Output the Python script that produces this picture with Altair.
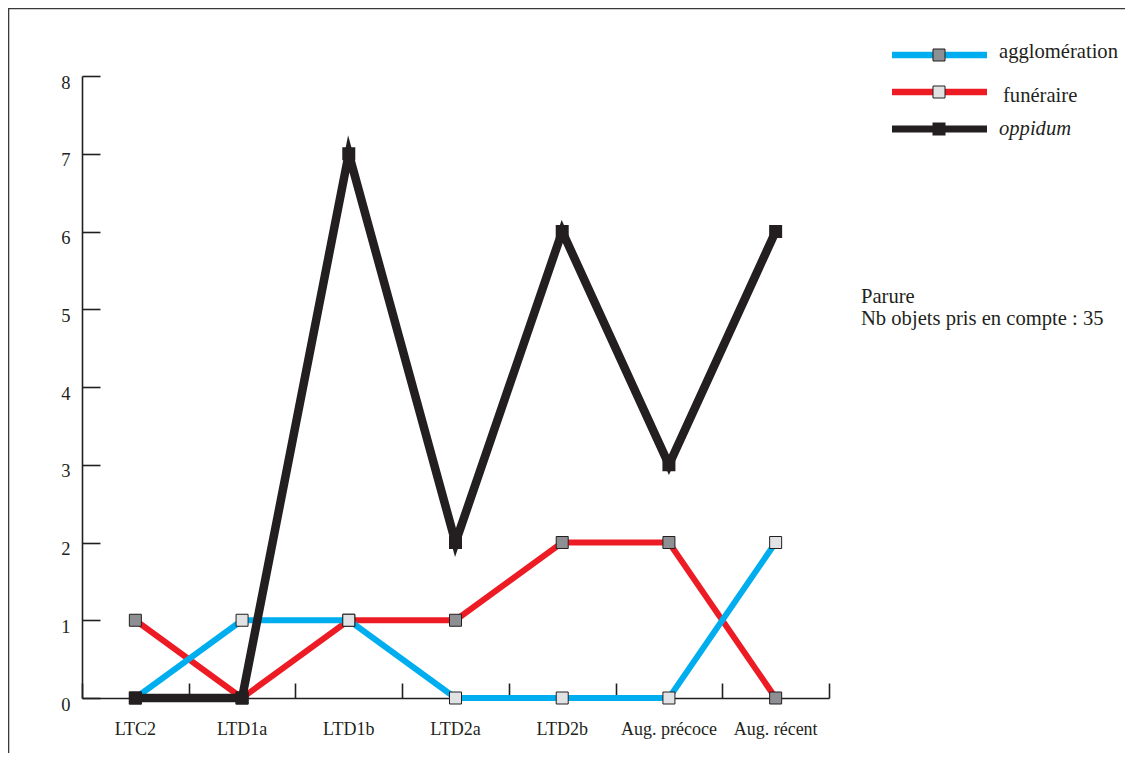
import altair as alt
import pandas as pd

# ---- data ----
cats = ["LTC2", "LTD1a", "LTD1b", "LTD2a", "LTD2b", "Aug. précoce", "Aug. récent"]
agglo = [0, 1, 1, 0, 0, 0, 2]
funer = [1, 0, 1, 1, 2, 2, 0]
oppid = [0, 0, 7, 2, 6, 3, 6]
series_names = ["agglomération", "funéraire", "oppidum"]
y_ticks = [0, 1, 2, 3, 4, 5, 6, 7, 8]
note_lines = ["Parure", "Nb objets pris en compte : 35"]

# ---- styles ----
INK = "#231f20"
BLUE = "#00aeef"
RED = "#ed1c24"
DARK_MK = "#8e8f92"
LIGHT_MK = "#e1e2e4"
SERIF = "Liberation Serif"
W, H = 747, 622

rows = []
for name, vals in zip(series_names, [agglo, funer, oppid]):
    for i, (c, v) in enumerate(zip(cats, vals)):
        rows.append({"cat": c, "idx": i, "series": name, "value": v})
df = pd.DataFrame(rows)
one = pd.DataFrame({"k": [0]})

x_scale = alt.Scale(type="band", domain=cats, paddingInner=0, paddingOuter=0)
y_scale = alt.Scale(domain=[0, 8], nice=False)

ax_x_ticks = alt.Axis(orient="top", offset=-H, labels=False, title=None, tickBand="extent",
                      tickSize=15, tickWidth=1.6, tickColor=INK, domainColor=INK,
                      domainWidth=1.6, grid=False)
ax_x_labels = alt.Axis(orient="bottom", title=None, ticks=False, tickSize=0, domain=False,
                       labelPadding=36, labelBaseline="alphabetic", labelAngle=0,
                       labelFont=SERIF, labelFontSize=18, labelColor=INK, grid=False)
ax_y_ticks = alt.Axis(orient="right", offset=-W, labels=False, title=None, values=y_ticks,
                      tickSize=18, tickWidth=1.6, tickColor=INK, domainColor=INK,
                      domainWidth=1.6, grid=False)
ax_y_labels = alt.Axis(orient="left", title=None, values=y_ticks, ticks=False, tickSize=0,
                       domain=False, labelPadding=12, labelOffset=6, labelBaseline="middle",
                       labelFont=SERIF, labelFontSize=18.5, labelColor=INK, grid=False)

base = alt.Chart(df)


def enc(xaxis=None, yaxis=None):
    return dict(
        x=alt.X("cat:N", scale=x_scale, sort=cats, axis=xaxis),
        y=alt.Y("value:Q", scale=y_scale, axis=yaxis),
        order=alt.Order("idx:Q"),
    )


def line(name, color, width, xaxis=None, yaxis=None):
    return base.transform_filter(alt.datum.series == name).mark_line(
        color=color, strokeWidth=width, strokeJoin="miter", strokeMiterLimit=6
    ).encode(**enc(xaxis, yaxis))


def pts(name, fill, size, stroke=None):
    kw = dict(size=size, fill=fill, opacity=1, filled=True)
    if stroke:
        kw.update(stroke=stroke, strokeWidth=1)
    return base.transform_filter(alt.datum.series == name).mark_square(**kw).encode(**enc())


red_line = line(series_names[1], RED, 6, ax_x_ticks, ax_y_ticks)
blue_line = line(series_names[0], BLUE, 6, ax_x_labels, ax_y_labels)
black_line = line(series_names[2], INK, 8.5)
red_pts = pts(series_names[1], DARK_MK, 144, INK)
blue_pts = pts(series_names[0], LIGHT_MK, 144, INK)
black_pts = pts(series_names[2], INK, 169)

leg = alt.Chart(one)
legend_layers = []
leg_specs = [
    (series_names[0], BLUE, DARK_MK, INK, -21, 917, -18, "normal", 6.5, 144),
    (series_names[1], RED, LIGHT_MK, INK, 16, 921, 26, "normal", 6.5, 144),
    (series_names[2], INK, INK, None, 53, 917, 59, "italic", 7, 169),
]
for name, lc, mf, ms, ly, tx, ty, style, lw, msz in leg_specs:
    legend_layers.append(
        leg.mark_rule(color=lc, strokeWidth=lw).encode(
            x=alt.value(810), x2=alt.value(905), y=alt.value(ly)))
    kw = dict(size=msz, fill=mf, opacity=1, filled=True)
    if ms:
        kw.update(stroke=ms, strokeWidth=1)
    legend_layers.append(leg.mark_square(**kw).encode(x=alt.value(857), y=alt.value(ly)))
    legend_layers.append(
        leg.mark_text(align="left", baseline="alphabetic", font=SERIF, fontSize=20.6,
                      fontStyle=style, color=INK).encode(
            x=alt.value(tx), y=alt.value(ty), text=alt.value(name)))

note = leg.mark_text(align="left", baseline="alphabetic", font=SERIF, fontSize=20.6,
                     lineHeight=22, color=INK).encode(
    x=alt.value(779), y=alt.value(227), text=alt.value(note_lines))

frame_top = leg.mark_rule(color="#3a3a3a", strokeWidth=2).encode(
    x=alt.value(-74), x2=alt.value(1051), y=alt.value(-67.7))
frame_left = leg.mark_rule(color="#3a3a3a", strokeWidth=2).encode(
    x=alt.value(-73.7), y=alt.value(-68), y2=alt.value(691))

chart = alt.layer(
    red_line, blue_line, black_line, red_pts, blue_pts, black_pts,
    *legend_layers, note, frame_top, frame_left
).resolve_axis(x="independent", y="independent").properties(
    width=W, height=H,
    autosize=alt.AutoSizeParams(type="none"),
    padding={"left": 74, "top": 68, "right": 296, "bottom": 55},
).configure_view(stroke=None).configure_axis(grid=False)

chart.save("out.html", embed_options={"renderer": "svg", "actions": False})
